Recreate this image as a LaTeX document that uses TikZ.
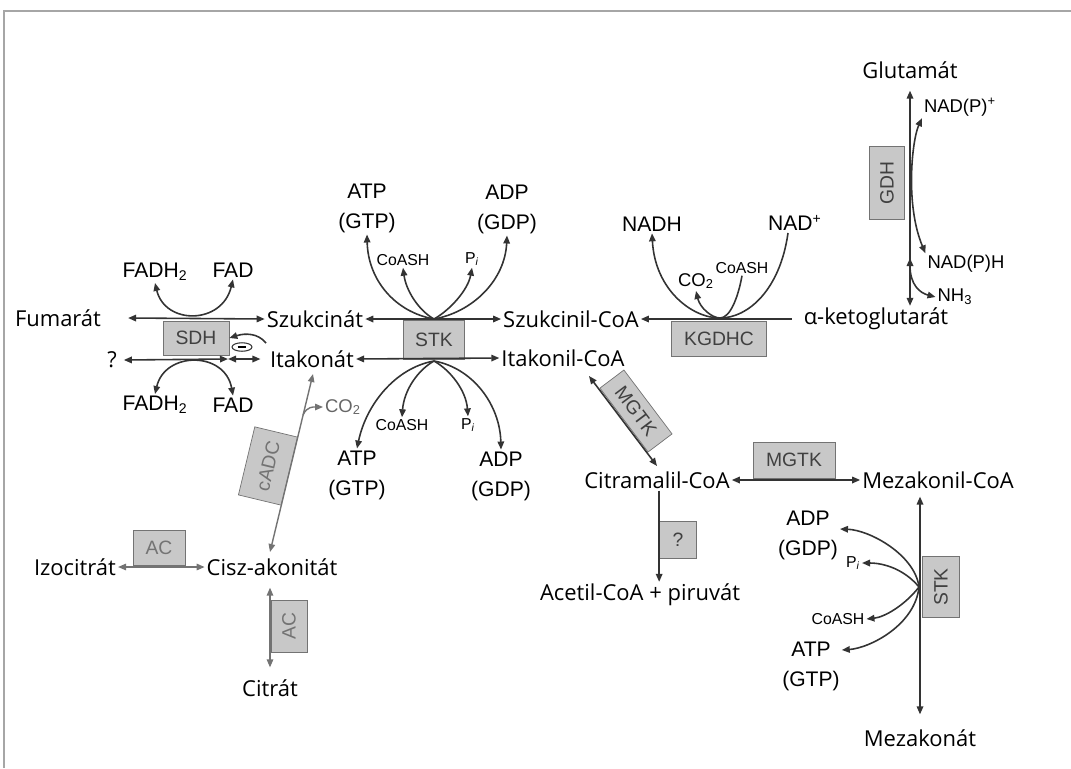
\documentclass[tikz,border=0pt]{standalone}
\usepackage{fontspec}
\usepackage{tikz}
\usetikzlibrary{arrows.meta, positioning, shapes.geometric, calc}
\usepackage{xcolor}
\newfontfamily\metfont{Open Sans}
\newfontfamily\labfont{Liberation Sans}
\definecolor{enzgray}{RGB}{200,200,200}
\definecolor{linegray}{RGB}{115,115,115}

\begin{document}
\begin{tikzpicture}[
  x=0.02cm, y=-0.02cm,
  >={Triangle[length=1.6mm, width=1.3mm]},
  met/.style={font=\metfont\fontsize{12.5}{15}\selectfont, inner sep=1pt},
  cof/.style={font=\labfont\fontsize{12}{17}\selectfont, inner sep=1pt, align=center},
  mid/.style={font=\labfont\fontsize{10.5}{12}\selectfont, inner sep=1pt},
  small/.style={font=\labfont\fontsize{9}{10}\selectfont, inner sep=1pt},
  enzyme/.style={rectangle, draw=black!55, fill=enzgray, font=\labfont\fontsize{11}{12}\selectfont, text=black!75, inner sep=0pt},
  enzgrey/.style={enzyme, draw=linegray, text=black!55},
  rxn/.style={draw=black!80, line width=0.9pt},
  rxngray/.style={draw=linegray, line width=0.8pt},
]
  \useasboundingbox (0,0) rectangle (1071,768);
  \draw[black!35, line width=1.2pt] (4,768) -- (4,11) -- (1071,11);

  \node[met] (fum) at (58,318) {Fumarát};
  \node[met] (szuk) at (315,319) {Szukcinát};
  \node[met] (ita) at (312,359) {Itakonát};
  \node[met] (q1) at (112,360) {?};
  \node[enzyme, minimum width=1.32cm, minimum height=0.68cm] (sdh) at (196,338) {SDH};
  \node[cof] (fadhT) at (155,272) {FADH\textsubscript{2}};
  \node[cof] (fadT) at (233,270) {FAD};
  \node[cof] (fadhB) at (155,405) {FADH\textsubscript{2}};
  \node[cof] (fadB) at (233,405) {FAD};
  \node[ellipse, draw=black!80, line width=0.6pt, minimum width=0.4cm, minimum height=0.17cm, inner sep=0pt] (inh) at (242,347) {\rule{5pt}{1.5pt}};
  \coordinate (sdhR) at (228,359);
  \coordinate (inhS) at (266,343);

  \draw[rxn, <->] ([xshift=0.5cm]fum.east) -- (szuk.west);
  \draw[rxn, <->] ([xshift=0.1cm]q1.east) -- (sdhR);
  \draw[rxn, <->] (sdhR) -- ([xshift=-0.15cm]ita.west);
  \draw[rxn, <->] (fadhT.south) .. controls (165,325) and (222,325) .. (fadT.south);
  \draw[rxn, <->] (fadhB.north) .. controls (165,351) and (225,351) .. (fadB.north);
  \draw[rxn, ->] (inhS) .. controls (258,333) and (245,333) .. (sdh.east);

  \node[enzyme, minimum width=1.22cm, minimum height=0.78cm] (stk) at (434,340) {STK};
  \node[met] (szcoa) at (571,319) {Szukcinil-CoA};
  \node[met] (itcoa) at (563,358) {Itakonil-CoA};
  \node[cof] (atpT) at (367,208) {ATP\\(GTP)};
  \node[cof] (adpT) at (507,209) {ADP\\(GDP)};
  \node[small] (coaT) at (403,260) {CoASH};
  \node[small] (piT) at (472,259) {P\textsubscript{\itshape i}};
  \node[small] (coaB) at (402,425) {CoASH};
  \node[small] (piB) at (468,425) {P\textsubscript{\itshape i}};
  \node[cof] (atpB) at (357,475) {ATP\\(GTP)};
  \node[cof] (adpB) at (501,476) {ADP\\(GDP)};
  \coordinate (stkT) at (434,319);
  \coordinate (stkB) at (434,361);

  \draw[rxn, <->] (szuk.east) -- (szcoa.west);
  \draw[rxn, <->] (ita.east) -- (itcoa.west);
  \draw[rxn, ->] (stkT) .. controls (395,312) and (368,280) .. (atpT.south);
  \draw[rxn, ->] (stkT) .. controls (418,310) and (406,290) .. (coaT.south);
  \draw[rxn, ->] (stkT) .. controls (450,310) and (468,290) .. (piT.south);
  \draw[rxn, ->] (stkT) .. controls (473,312) and (505,280) .. (adpT.south);
  \draw[rxn, ->] (stkB) .. controls (395,368) and (366,405) .. (atpB.north);
  \draw[rxn, ->] (stkB) .. controls (418,370) and (404,390) .. (coaB.north);
  \draw[rxn, ->] (stkB) .. controls (450,370) and (466,390) .. (piB.north);
  \draw[rxn, ->] (stkB) .. controls (473,368) and (500,405) .. (adpB.north);

  \node[met] (akg) at (876,319) {α-ketoglutarát};
  \node[enzyme, minimum width=1.9cm, minimum height=0.7cm] (kgdhc) at (719,339) {KGDHC};
  \node[cof] (nadh) at (652,224) {NADH};
  \node[cof] (nadox) at (795,223) {NAD\textsuperscript{+}};
  \node[mid] (co2k) at (696,281) {CO\textsubscript{2}};
  \node[small] (coaK) at (742,268) {CoASH};
  \coordinate (kgT) at (720,318);

  \draw[rxn, ->] ([xshift=-0.2cm]akg.west) -- (szcoa.east);
  \draw[rxn, ->] ([xshift=-0.14cm]nadox.south) .. controls (780,290) and (748,318) .. (kgT)
    .. controls (692,318) and (655,290) .. (nadh.south);
  \draw[rxn, ->] (coaK.south) .. controls (738,298) and (730,318) .. (kgT)
    .. controls (712,318) and (700,308) .. (co2k.south);

  \node[met] (glu) at (910,70) {Glutamát};
  \node[enzyme, rotate=90, minimum width=1.46cm, minimum height=0.7cm] (gdh) at (887,183) {GDH};
  \node[mid] (nadpox) at (960,107) {NAD(P)\textsuperscript{+}};
  \node[mid] (nadph) at (966,264) {NAD(P)H};
  \node[mid] (nh3) at (955,297) {NH\textsubscript{3}};
  \coordinate (nhS) at (910,258);

  \draw[rxn, <->, shorten <=0.2cm] (glu.south) -- (glu.south |- akg.north);
  \draw[rxn, <->] (nadpox.south west) .. controls (912,140) and (905,205) .. (nadph.north west);
  \draw[rxn, <->] (nhS) .. controls (910,285) and (920,293) .. (nh3.west);

  \node[met] (cit) at (657,480) {Citramalil-CoA};
  \node[met] (mez) at (938,480) {Mezakonil-CoA};
  \node[met] (acet) at (640,595) {Acetil-CoA + piruvát};
  \node[met] (mezat) at (920,738) {Mezakonát};
  \node[enzyme, minimum width=1.64cm, minimum height=0.72cm] (mgtkH) at (794,460) {MGTK};
  \node[enzyme, rotate=-53, minimum width=1.6cm, minimum height=0.6cm] (mgtkD) at (636,411) {MGTK};
  \node[enzyme, minimum size=0.74cm] (qenz) at (678,540) {?};
  \node[enzyme, rotate=90, minimum width=1.22cm, minimum height=0.74cm] (stkM) at (941,587) {STK};
  \node[cof] (adpM) at (808,535) {ADP\\(GDP)};
  \node[small] (piM) at (853,563) {P\textsubscript{\itshape i}};
  \node[small] (coaM) at (838,619) {CoASH};
  \node[cof] (atpM) at (811,666) {ATP\\(GTP)};
  \coordinate (mgA) at (589,376);
  \coordinate (mgB) at (657,466);
  \coordinate (stkP) at (919,587);

  \draw[rxn, <->] (mgA) -- (mgB);
  \draw[rxn, <->] (cit.east) -- (mez.west);
  \draw[rxn, ->] (qenz.west |- cit.south) -- (qenz.west |- acet.north);
  \draw[rxn, <->, shorten <=0.12cm, shorten >=0.26cm] (mez.south -| mezat.north) -- (mezat.north);
  \draw[rxn, ->] (stkP) .. controls (915,555) and (870,530) .. ([yshift=0.12cm]adpM.east);
  \draw[rxn, ->] (stkP) .. controls (905,570) and (885,563) .. (piM.east);
  \draw[rxn, ->] (stkP) .. controls (905,605) and (885,617) .. (coaM.east);
  \draw[rxn, ->] (stkP) .. controls (915,625) and (870,648) .. ([yshift=0.32cm]atpM.east);

  \node[met] (izo) at (75,567) {Izocitrát};
  \node[met] (cisz) at (272,567) {Cisz-akonitát};
  \node[met] (citr) at (270,688) {Citrát};
  \node[enzgrey, minimum width=1.04cm, minimum height=0.7cm] (acH) at (159,548) {AC};
  \node[enzgrey, rotate=90, minimum width=1.04cm, minimum height=0.72cm] (acV) at (289,626) {AC};
  \node[enzgrey, rotate=76.5, minimum width=1.4cm, minimum height=0.88cm] (cadc) at (268,466) {cADC};
  \node[mid, text=black!60] (co2c) at (343,407) {CO\textsubscript{2}};
  \coordinate (caA) at (270,552);
  \coordinate (caB) at (313,374);
  \coordinate (caC) at (303,415);

  \draw[rxngray, <->] (izo.east) -- (cisz.west);
  \draw[rxngray, <->, shorten <=0.2cm, shorten >=0.2cm] (citr.north |- cisz.south) -- (citr.north);
  \draw[rxngray, <->] (caA) -- (caB);
  \draw[rxngray, ->] (caC) .. controls (307,406) and (314,407) .. (co2c.west);
\end{tikzpicture}
\end{document}
